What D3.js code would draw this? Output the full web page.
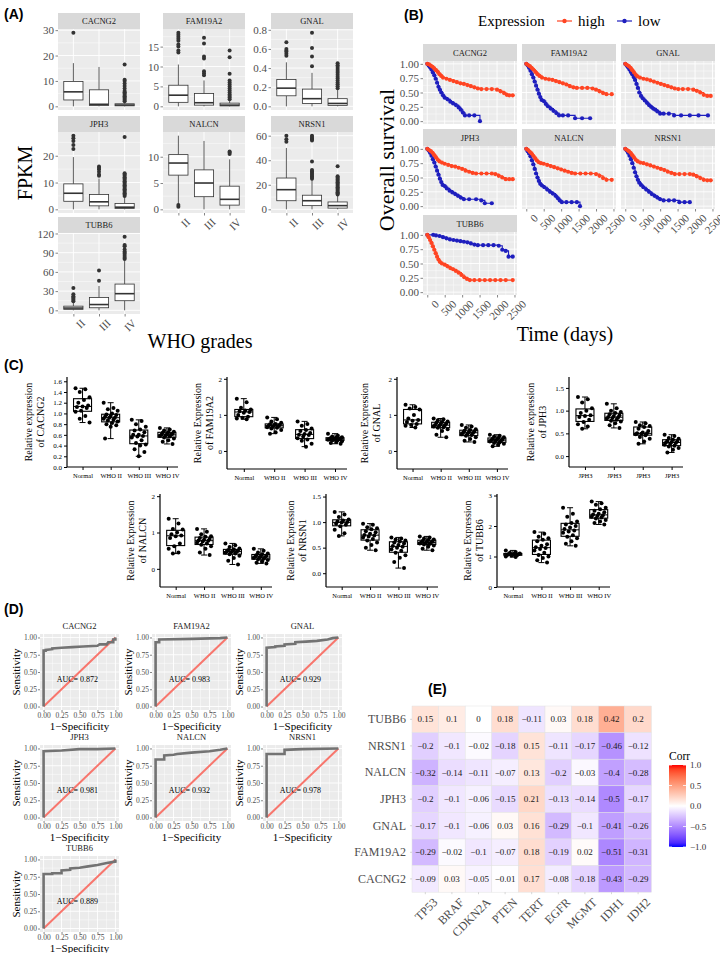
<!DOCTYPE html>
<html><head><meta charset="utf-8">
<script src="https://cdn.jsdelivr.net/npm/d3@7/dist/d3.min.js"></script>
<style>html,body{margin:0;padding:0;background:#fff;}svg{display:block;}</style>
</head><body>
<svg id="fig" width="720" height="953" xmlns="http://www.w3.org/2000/svg"></svg>
<script>
// ================= DATA =================
// ---- Panel A: FPKM by WHO grade; box = [lower whisker, Q1, median, Q3, upper whisker] for II, III, IV
const gradesA = ["II","III","IV"];
const genesA = ["CACNG2","FAM19A2","GNAL","JPH3","NALCN","NRSN1","TUBB6"];
const boxCACNG2 = [[0,2.5,5.7,9.8,17],[0,0.3,0.8,6.5,15.5],[0,0.2,0.5,1.0,1.8]];
const outCACNG2 = [[29],[],[2,2.5,3,3.5,4,4.5,5,5.5,6,7,8,9,10,10.5,16.5]];
const ticksCACNG2 = [0,10,20,30];
const boxFAM19A2 = [[0,1.0,2.8,5.3,10.5],[0,0.3,0.9,3.2,6.5],[0,0.1,0.3,0.8,1.5]];
const outFAM19A2 = [[13.5,14,15,15.5,16.5,17,17.5,18,18.5],[7.8,8.3,8.8,12,12.5,15.8,17.2],[1.8,2.2,2.6,3,3.5,4,4.5,5,5.5,6,6.5,8.2,12.3,14]];
const ticksFAM19A2 = [0,5,10,15];
const boxGNAL = [[0,0.11,0.19,0.28,0.46],[0,0.03,0.08,0.18,0.35],[0,0.01,0.03,0.08,0.17]];
const outGNAL = [[0.53,0.55,0.57,0.58,0.6,0.67],[0.42,0.52,0.61,0.77],[0.19,0.21,0.23,0.25,0.27,0.29,0.31,0.33,0.35,0.37,0.39,0.41,0.43,0.45]];
const ticksGNAL = [0,0.2,0.4,0.6,0.8];
const boxJPH3 = [[0,3,6,9.5,19.5],[0,1.3,2.8,5.5,11.5],[0,0.3,0.8,2.2,4.5]];
const outJPH3 = [[22.5,24,25.5,26.5,27.5],[12.5,13,14,15,15.5,16],[5,5.5,6,6.5,7,7.5,8,8.5,9,9.5,10,10.5,11,11.5,12,12.5,13,13.5,27]];
const ticksJPH3 = [0,10,20];
const boxNALCN = [[1,6.5,8.8,10.4,14],[0,2.4,5,7.5,13],[0,0.8,1.9,4.4,9.5]];
const outNALCN = [[0.5,0.8],[],[10.5,10.8,11]];
const ticksNALCN = [0,5,10];
const boxNRSN1 = [[0,7,16,25.5,50],[0,3,7,11.5,24],[0,1,3,6,11]];
const outNRSN1 = [[55,57,60],[25,26,27,28,29,30,31,32,39,56,57,58,59,60],[12,13,14,15,16,17,18,19,20,21,22,23,24,25,26,27,35]];
const ticksNRSN1 = [0,20,40,60];
const boxTUBB6 = [[0,1.5,3.5,6.5,13],[0,4,9,20,38],[0,15,26,41,78]];
const outTUBB6 = [[14,16,18,20,22,25,35],[46,62],[80,82,85,88,90,92,95,100,102,115]];
const ticksTUBB6 = [0,30,60,90,120];

// ---- Panel B: Kaplan-Meier [time (days), survival]
const kmTimeTicks = [0,500,1000,1500,2000,2500];
const kmSurvTicks = [0,0.25,0.5,0.75,1];
const kmHighCACNG2 = [[0,1],[50,0.99],[100,0.97],[150,0.95],[200,0.92],[250,0.89],[300,0.86],[350,0.82],[400,0.79],[450,0.76],[550,0.74],[650,0.72],[750,0.7],[850,0.68],[950,0.66],[1050,0.65],[1150,0.63],[1250,0.61],[1350,0.59],[1450,0.57],[1550,0.56],[1700,0.56],[1850,0.56],[2000,0.55],[2100,0.52],[2200,0.49],[2280,0.46],[2350,0.45],[2450,0.45]];
const kmLowCACNG2 = [[0,1],[40,0.97],[80,0.94],[120,0.9],[160,0.85],[200,0.8],[240,0.74],[280,0.67],[320,0.6],[360,0.55],[400,0.5],[450,0.45],[500,0.41],[580,0.38],[660,0.34],[740,0.31],[820,0.28],[900,0.24],[960,0.2],[1020,0.15],[1080,0.1],[1200,0.1],[1350,0.1],[1510,0]];
const kmHighFAM19A2 = [[0,1],[50,0.98],[100,0.96],[150,0.93],[200,0.9],[260,0.86],[320,0.82],[380,0.79],[450,0.76],[550,0.74],[650,0.73],[750,0.72],[850,0.7],[950,0.68],[1050,0.66],[1150,0.64],[1250,0.61],[1350,0.59],[1450,0.58],[1600,0.58],[1750,0.58],[1900,0.57],[2000,0.55],[2100,0.52],[2200,0.49],[2300,0.47],[2450,0.47]];
const kmLowFAM19A2 = [[0,1],[40,0.97],[80,0.93],[120,0.88],[160,0.82],[200,0.76],[240,0.69],[280,0.62],[320,0.55],[360,0.48],[400,0.42],[440,0.37],[500,0.35],[560,0.3],[620,0.26],[700,0.22],[780,0.18],[860,0.14],[940,0.1],[1050,0.1],[1200,0.1],[1400,0.05],[1600,0.05],[1830,0.05]];
const kmHighGNAL = [[0,1],[50,0.98],[100,0.96],[150,0.93],[200,0.89],[250,0.85],[300,0.81],[350,0.78],[420,0.76],[520,0.74],[620,0.73],[720,0.71],[820,0.69],[920,0.67],[1020,0.65],[1120,0.63],[1220,0.61],[1320,0.59],[1420,0.57],[1520,0.56],[1650,0.56],[1800,0.56],[1950,0.55],[2050,0.53],[2150,0.5],[2250,0.46],[2350,0.44],[2450,0.44]];
const kmLowGNAL = [[0,1],[40,0.97],[80,0.94],[120,0.9],[160,0.86],[200,0.82],[240,0.77],[280,0.72],[320,0.65],[360,0.58],[400,0.5],[450,0.44],[500,0.4],[560,0.36],[620,0.32],[680,0.28],[740,0.25],[800,0.22],[860,0.2],[920,0.17],[1000,0.13],[1100,0.13],[1250,0.13],[1400,0.1],[1600,0.1],[1850,0.1],[2100,0.1],[2370,0.1]];
const kmHighJPH3 = [[0,1],[50,0.98],[100,0.96],[150,0.93],[200,0.89],[250,0.85],[300,0.81],[350,0.78],[420,0.76],[500,0.74],[600,0.72],[700,0.7],[800,0.69],[900,0.67],[1000,0.65],[1100,0.62],[1200,0.6],[1300,0.58],[1400,0.57],[1550,0.57],[1700,0.57],[1850,0.57],[1950,0.56],[2050,0.53],[2150,0.5],[2250,0.47],[2350,0.47],[2450,0.47]];
const kmLowJPH3 = [[0,1],[40,0.97],[80,0.93],[120,0.88],[160,0.82],[200,0.76],[240,0.69],[280,0.62],[320,0.55],[360,0.48],[400,0.42],[440,0.37],[500,0.35],[560,0.31],[640,0.27],[720,0.24],[800,0.21],[880,0.18],[960,0.15],[1050,0.12],[1200,0.12],[1400,0.12],[1550,0.1],[1650,0.05],[1850,0.05]];
const kmHighNALCN = [[0,1],[50,0.98],[100,0.95],[150,0.92],[200,0.88],[250,0.84],[300,0.8],[350,0.77],[420,0.75],[500,0.74],[600,0.72],[700,0.7],[800,0.68],[900,0.66],[1000,0.64],[1100,0.62],[1200,0.6],[1300,0.58],[1400,0.57],[1550,0.57],[1700,0.57],[1850,0.57],[2000,0.56],[2100,0.53],[2200,0.49],[2300,0.46],[2450,0.46]];
const kmLowNALCN = [[0,1],[40,0.96],[80,0.92],[120,0.87],[160,0.8],[200,0.73],[240,0.65],[280,0.57],[320,0.5],[360,0.44],[400,0.39],[450,0.36],[520,0.33],[600,0.29],[680,0.25],[760,0.22],[840,0.18],[900,0.14],[960,0.1],[1020,0.07],[1150,0.07],[1300,0.07],[1450,0.07],[1540,0]];
const kmHighNRSN1 = [[0,1],[50,0.98],[100,0.96],[150,0.93],[200,0.89],[250,0.85],[300,0.81],[360,0.78],[430,0.76],[520,0.75],[620,0.73],[720,0.71],[820,0.69],[920,0.67],[1020,0.65],[1120,0.63],[1220,0.6],[1320,0.58],[1420,0.56],[1550,0.56],[1700,0.56],[1850,0.56],[1950,0.55],[2050,0.52],[2150,0.49],[2250,0.46],[2350,0.45],[2450,0.45]];
const kmLowNRSN1 = [[0,1],[40,0.97],[80,0.93],[120,0.88],[160,0.82],[200,0.75],[240,0.67],[280,0.59],[320,0.52],[360,0.46],[400,0.41],[450,0.37],[520,0.33],[600,0.29],[680,0.25],[760,0.21],[840,0.18],[920,0.15],[1000,0.12],[1100,0.1],[1250,0.1],[1400,0.1],[1550,0.07],[1700,0.07],[1850,0.07]];
const kmHighTUBB6 = [[0,1],[40,0.96],[80,0.91],[120,0.86],[160,0.8],[200,0.74],[240,0.68],[280,0.62],[320,0.57],[360,0.53],[420,0.5],[500,0.48],[580,0.45],[660,0.42],[740,0.4],[820,0.37],[900,0.34],[980,0.3],[1060,0.26],[1140,0.23],[1220,0.21],[1350,0.21],[1500,0.21],[1650,0.21],[1800,0.21],[1950,0.21],[2100,0.21],[2250,0.21],[2450,0.21]];
const kmLowTUBB6 = [[0,1],[170,1],[250,0.99],[350,0.98],[450,0.96],[550,0.94],[650,0.92],[750,0.91],[850,0.9],[950,0.89],[1050,0.88],[1150,0.87],[1250,0.85],[1350,0.83],[1450,0.82],[1600,0.82],[1750,0.82],[1900,0.82],[2050,0.81],[2150,0.74],[2250,0.72],[2330,0.62],[2450,0.62]];

// ---- Panel C: qPCR relative expression (individual samples)
const groupsC = ["Normal","WHO II","WHO III","WHO IV"];
const groupsCJPH3 = ["JPH3","JPH3","JPH3","JPH3"];
const qCACNG2 = [[1.47,1.45,1.4,1.3,1.25,1.2,1.15,1.13,1.12,1.1,1.05,1.03,0.95,0.9,0.83],[1.2,1.1,1.08,1.05,1.0,0.98,0.97,0.95,0.94,0.92,0.92,0.9,0.88,0.87,0.85,0.82,0.8,0.78,0.75,0.53],[0.88,0.86,0.8,0.75,0.7,0.68,0.65,0.6,0.6,0.58,0.57,0.55,0.5,0.45,0.42,0.4,0.33,0.28,0.2],[0.73,0.7,0.68,0.66,0.65,0.64,0.62,0.61,0.6,0.6,0.59,0.58,0.57,0.55,0.53,0.5,0.47,0.43]];
const qFAM19A2 = [[1.45,1.35,1.2,1.15,1.12,1.1,1.08,1.06,1.0,0.95,0.92,0.9,0.88],[0.93,0.88,0.82,0.78,0.75,0.74,0.72,0.71,0.7,0.69,0.68,0.66,0.64,0.62,0.58,0.52,0.48],[0.82,0.75,0.7,0.62,0.58,0.55,0.5,0.47,0.45,0.44,0.4,0.35,0.32,0.28,0.2,0.12],[0.48,0.43,0.4,0.38,0.37,0.36,0.35,0.34,0.33,0.33,0.32,0.31,0.3,0.29,0.27,0.25,0.22,0.2]];
const qGNAL = [[1.28,1.22,1.18,1.15,1.0,0.9,0.86,0.84,0.8,0.75,0.72,0.7,0.65],[0.9,0.88,0.85,0.82,0.8,0.78,0.76,0.74,0.72,0.71,0.7,0.68,0.66,0.64,0.6,0.55,0.45,0.38],[0.72,0.68,0.64,0.6,0.58,0.56,0.54,0.52,0.51,0.5,0.48,0.46,0.44,0.42,0.38,0.33,0.28,0.25],[0.45,0.42,0.4,0.38,0.36,0.34,0.32,0.31,0.3,0.29,0.28,0.26,0.24,0.22,0.2,0.17,0.13]];
const qJPH3 = [[1.3,1.25,1.18,1.05,1.0,0.95,0.9,0.88,0.86,0.8,0.75,0.7,0.65,0.6],[1.15,1.05,1.0,0.97,0.95,0.92,0.9,0.88,0.86,0.85,0.84,0.82,0.8,0.78,0.76,0.72,0.68,0.62],[0.75,0.72,0.68,0.66,0.64,0.6,0.55,0.52,0.5,0.5,0.49,0.48,0.46,0.42,0.38,0.32,0.27],[0.47,0.44,0.4,0.38,0.36,0.34,0.32,0.31,0.3,0.29,0.27,0.25,0.23,0.21,0.18,0.14,0.08]];
const qNALCN = [[1.38,1.25,1.1,1.08,1.0,0.95,0.92,0.9,0.85,0.7,0.62,0.55,0.45,0.42],[1.1,1.02,0.95,0.9,0.88,0.85,0.82,0.8,0.78,0.77,0.75,0.72,0.7,0.66,0.62,0.55,0.45,0.38],[0.7,0.65,0.6,0.56,0.54,0.52,0.5,0.49,0.48,0.47,0.46,0.44,0.42,0.4,0.36,0.3,0.22,0.12],[0.55,0.5,0.45,0.42,0.4,0.38,0.36,0.34,0.33,0.32,0.31,0.3,0.28,0.26,0.24,0.2,0.17,0.15]];
const qNRSN1 = [[1.2,1.15,1.1,1.05,1.03,1.01,1.0,0.99,0.97,0.95,0.92,0.85,0.78,0.73],[0.97,0.95,0.9,0.88,0.86,0.82,0.8,0.77,0.75,0.74,0.72,0.7,0.67,0.64,0.6,0.55,0.5,0.45],[0.7,0.68,0.66,0.64,0.62,0.6,0.58,0.55,0.53,0.52,0.5,0.47,0.44,0.4,0.35,0.3,0.22,0.1],[0.72,0.7,0.68,0.66,0.65,0.63,0.62,0.61,0.6,0.6,0.59,0.58,0.57,0.56,0.54,0.52,0.48,0.45]];
const qTUBB6 = [[1.2,1.15,1.12,1.1,1.09,1.08,1.07,1.06,1.05,1.04,1.03,1.0,0.98],[1.8,1.75,1.65,1.6,1.55,1.5,1.4,1.35,1.3,1.28,1.25,1.2,1.12,1.05,1.0,0.95,0.88,0.8],[2.6,2.4,2.3,2.15,2.1,2.05,2.0,1.95,1.9,1.85,1.82,1.78,1.7,1.65,1.6,1.5,1.42,1.35],[2.8,2.75,2.7,2.6,2.55,2.5,2.45,2.4,2.38,2.35,2.33,2.3,2.28,2.25,2.2,2.15,2.1,2.05]];

// ---- Panel D: ROC curves [1-specificity, sensitivity]
const rocCACNG2 = [[0,0],[0,0.81],[0.03,0.81],[0.03,0.82],[0.12,0.83],[0.12,0.84],[0.25,0.85],[0.4,0.86],[0.55,0.87],[0.75,0.88],[0.78,0.9],[0.88,0.9],[0.9,0.93],[0.97,0.93],[0.97,0.97],[1,0.97],[1,1]];
const rocFAM19A2 = [[0,0],[0,0.93],[0.05,0.93],[0.05,0.97],[0.5,0.98],[0.9,0.99],[1,1]];
const rocGNAL = [[0,0],[0,0.85],[0.12,0.86],[0.12,0.87],[0.25,0.88],[0.25,0.9],[0.4,0.91],[0.4,0.93],[0.55,0.94],[0.7,0.95],[0.85,0.97],[0.92,0.99],[1,1]];
const rocJPH3 = [[0,0],[0,0.96],[0.25,0.97],[0.5,0.99],[0.75,0.99],[1,1]];
const rocNALCN = [[0,0],[0,0.84],[0.12,0.84],[0.12,0.9],[0.25,0.91],[0.3,0.92],[0.5,0.94],[0.75,0.96],[0.9,0.98],[1,1]];
const rocNRSN1 = [[0,0],[0,0.92],[0.25,0.92],[0.25,0.98],[0.5,0.99],[1,1]];
const rocTUBB6 = [[0,0],[0,0.79],[0.12,0.79],[0.12,0.8],[0.25,0.8],[0.25,0.84],[0.37,0.85],[0.37,0.87],[0.5,0.88],[0.62,0.9],[0.75,0.92],[0.88,0.95],[1,0.97],[1,1]];
const aucValues = [0.872,0.983,0.929,0.981,0.932,0.978,0.889];
const rocAxisTicks = [0,0.25,0.5,0.75,1];

// ---- Panel E: correlation heatmap
const heatRows = ["TUBB6","NRSN1","NALCN","JPH3","GNAL","FAM19A2","CACNG2"];
const heatCols = ["TP53","BRAF","CDKN2A","PTEN","TERT","EGFR","MGMT","IDH1","IDH2"];
const corrTUBB6 = [0.15,0.1,0,0.18,-0.11,0.03,0.18,0.42,0.2];
const corrNRSN1 = [-0.2,-0.1,-0.02,-0.18,0.15,-0.11,-0.17,-0.46,-0.12];
const corrNALCN = [-0.32,-0.14,-0.11,-0.07,0.13,-0.2,-0.03,-0.4,-0.28];
const corrJPH3 = [-0.2,-0.1,-0.06,-0.15,0.21,-0.13,-0.14,-0.5,-0.17];
const corrGNAL = [-0.17,-0.1,-0.06,0.03,0.16,-0.29,-0.1,-0.41,-0.26];
const corrFAM19A2 = [-0.29,-0.02,-0.1,-0.07,0.18,-0.19,0.02,-0.51,-0.31];
const corrCACNG2 = [-0.09,0.03,-0.05,-0.01,0.17,-0.08,-0.18,-0.43,-0.29];
const corrLegendTicks = [-1,-0.5,0,0.5,1];

// ================= DRAWING =================
const SERIF = "'Liberation Serif','Times New Roman',serif";
const SANS = "'Liberation Sans',Arial,sans-serif";
const svg = d3.select("#fig");
const minus = s => String(s).replace(/-/g, "\u2212");

function txt(g, x, y, t, size, opts = {}) {
  const e = g.append("text").attr("x", x).attr("y", y).attr("font-family", opts.family || SERIF)
    .attr("font-size", size).style("fill", opts.fill || "#000").attr("text-anchor", opts.anchor || "start").text(t);
  if (opts.weight) e.attr("font-weight", opts.weight);
  if (opts.rotate !== undefined) e.attr("transform", `rotate(${opts.rotate},${x},${y})`);
  if (opts.baseline) e.attr("dominant-baseline", opts.baseline);
  return e;
}
function styleAxis(sel, size, color) {
  sel.select(".domain").remove();
  sel.attr("fill", null);
  sel.selectAll(".tick line").attr("stroke", "#333").attr("stroke-width", 0.6);
  sel.selectAll(".tick text").attr("font-family", SERIF).attr("font-size", size).style("fill", color);
}
// panel labels
txt(svg, 4, 19, "(A)", 14, {family: SANS, weight: "bold"});
txt(svg, 404, 20, "(B)", 14, {family: SANS, weight: "bold"});
txt(svg, 4, 370, "(C)", 14, {family: SANS, weight: "bold"});
txt(svg, 4, 614, "(D)", 14, {family: SANS, weight: "bold"});
txt(svg, 428, 694, "(E)", 14, {family: SANS, weight: "bold"});

function ggGrid(g, xs, ys, px, py, pw, ph, xMinor, yMinor) {
  yMinor.forEach(v => g.append("line").attr("x1", px).attr("x2", px + pw).attr("y1", v).attr("y2", v).attr("stroke", "#fff").attr("stroke-width", 0.45));
  xMinor.forEach(v => g.append("line").attr("y1", py).attr("y2", py + ph).attr("x1", v).attr("x2", v).attr("stroke", "#fff").attr("stroke-width", 0.45));
  ys.forEach(v => g.append("line").attr("x1", px).attr("x2", px + pw).attr("y1", v).attr("y2", v).attr("stroke", "#fff").attr("stroke-width", 0.9));
  xs.forEach(v => g.append("line").attr("y1", py).attr("y2", py + ph).attr("x1", v).attr("x2", v).attr("stroke", "#fff").attr("stroke-width", 0.9));
}
function midpoints(ticks, lo, hi) {
  const st = ticks[1] - ticks[0], out = [];
  for (let i = -1; i < ticks.length; i++) { const v = ticks[0] + st * (i + 0.5); if (v > lo && v < hi) out.push(v); }
  return out;
}

// ---------- Panel A ----------
const boxesA = [boxCACNG2, boxFAM19A2, boxGNAL, boxJPH3, boxNALCN, boxNRSN1, boxTUBB6];
const outsA = [outCACNG2, outFAM19A2, outGNAL, outJPH3, outNALCN, outNRSN1, outTUBB6];
const ticksA = [ticksCACNG2, ticksFAM19A2, ticksGNAL, ticksJPH3, ticksNALCN, ticksNRSN1, ticksTUBB6];
const colXA = [58, 163, 271], rowYA = [29, 132, 233], pwA = 82, phA = 81;
genesA.forEach((gene, k) => {
  const col = k % 3, row = Math.floor(k / 3);
  const px = colXA[col], py = rowYA[row];
  const g = svg.append("g");
  g.append("rect").attr("x", px).attr("y", py - 16).attr("width", pwA).attr("height", 16).attr("fill", "#d9d9d9");
  txt(g, px + pwA / 2, py - 5, gene, 8.5, {anchor: "middle", fill: "#1a1a1a"});
  g.append("rect").attr("x", px).attr("y", py).attr("width", pwA).attr("height", phA).attr("fill", "#ebebeb");
  const all = boxesA[k].flat().concat(outsA[k].flat());
  const mn = d3.min(all), mx = d3.max(all), r = mx - mn;
  const y = d3.scaleLinear().domain([mn - 0.05 * r, mx + 0.05 * r]).range([py + phA, py]);
  const x = d3.scalePoint().domain(gradesA).range([px + pwA * 0.6 / 3.2, px + pwA * 2.6 / 3.2]);
  ggGrid(g, gradesA.map(x), ticksA[k].map(y), px, py, pwA, phA, [], midpoints(ticksA[k], y.domain()[0], y.domain()[1]).map(y));
  const bw = (pwA / 3.2) * 0.75;
  gradesA.forEach((gr, i) => {
    const [lo, q1, md, q3, hi] = boxesA[k][i], cx = x(gr);
    g.append("line").attr("x1", cx).attr("x2", cx).attr("y1", y(lo)).attr("y2", y(q1)).attr("stroke", "#333").attr("stroke-width", 0.8);
    g.append("line").attr("x1", cx).attr("x2", cx).attr("y1", y(q3)).attr("y2", y(hi)).attr("stroke", "#333").attr("stroke-width", 0.8);
    g.append("rect").attr("x", cx - bw / 2).attr("y", y(q3)).attr("width", bw).attr("height", Math.max(0.5, y(q1) - y(q3))).attr("fill", "#fff").attr("stroke", "#333").attr("stroke-width", 0.8);
    g.append("line").attr("x1", cx - bw / 2).attr("x2", cx + bw / 2).attr("y1", y(md)).attr("y2", y(md)).attr("stroke", "#333").attr("stroke-width", 1.6);
    outsA[k][i].forEach(v => g.append("circle").attr("cx", cx).attr("cy", y(v)).attr("r", 2).attr("fill", "#333"));
  });
  const ax = g.append("g").attr("transform", `translate(${px},0)`).call(d3.axisLeft(y).tickValues(ticksA[k]).tickSize(2.5).tickPadding(1.5));
  styleAxis(ax, 11, "#4d4d4d");
  const showX = (row === 2) || (row === 1 && col > 0);
  if (showX) {
    const bx = g.append("g").attr("transform", `translate(0,${py + phA})`).call(d3.axisBottom(x).tickSize(2.5).tickPadding(2));
    styleAxis(bx, 11, "#4d4d4d");
    bx.selectAll(".tick text").attr("text-anchor", "end").attr("dy", "0.6em").attr("transform", "translate(4,2) rotate(-45)");
  }
});
txt(svg, 25, 173, "FPKM", 20, {anchor: "middle", rotate: -90, baseline: "central"});
txt(svg, 200, 348, "WHO grades", 20, {anchor: "middle"});

// ---------- Panel B ----------
const HIGH = "#FF4422", LOW = "#1E1EBE";
const kmHigh = [kmHighCACNG2, kmHighFAM19A2, kmHighGNAL, kmHighJPH3, kmHighNALCN, kmHighNRSN1, kmHighTUBB6];
const kmLow = [kmLowCACNG2, kmLowFAM19A2, kmLowGNAL, kmLowJPH3, kmLowNALCN, kmLowNRSN1, kmLowTUBB6];
const colXB = [423, 522, 621], rowYB = [61, 146, 232], pwB = 94, phB = 63;
const tMax = d3.max(kmHigh.concat(kmLow).flat(), d => d[0]);
genesA.forEach((gene, k) => {
  const col = k % 3, row = Math.floor(k / 3);
  const px = colXB[col], py = rowYB[row];
  const g = svg.append("g");
  g.append("rect").attr("x", px).attr("y", py - 17).attr("width", pwB).attr("height", 17).attr("fill", "#d9d9d9");
  txt(g, px + pwB / 2, py - 5, gene, 8.5, {anchor: "middle", fill: "#1a1a1a"});
  g.append("rect").attr("x", px).attr("y", py).attr("width", pwB).attr("height", phB).attr("fill", "#ebebeb");
  const x = d3.scaleLinear().domain([-0.05 * tMax, tMax * 1.05]).range([px, px + pwB]);
  const y = d3.scaleLinear().domain([-0.05, 1.05]).range([py + phB, py]);
  ggGrid(g, kmTimeTicks.map(x).filter(v => v <= px + pwB), kmSurvTicks.map(y), px, py, pwB, phB,
    midpoints(kmTimeTicks, x.domain()[0], x.domain()[1]).map(x), midpoints(kmSurvTicks, -0.05, 1.05).map(y));
  const line = d3.line().x(d => x(d[0])).y(d => y(d[1])).curve(d3.curveStepAfter);
  [[kmLow[k], LOW], [kmHigh[k], HIGH]].forEach(([data, c]) => {
    g.append("path").attr("d", line(data)).attr("fill", "none").attr("stroke", c).attr("stroke-width", 1.1);
    data.forEach(d => g.append("circle").attr("cx", x(d[0])).attr("cy", y(d[1])).attr("r", 2.1).attr("fill", c));
  });
  if (col === 0) {
    const ax = g.append("g").attr("transform", `translate(${px},0)`).call(d3.axisLeft(y).tickValues(kmSurvTicks).tickFormat(d3.format(".2f")).tickSize(2.5).tickPadding(1.5));
    styleAxis(ax, 11, "#4d4d4d");
  }
  const showX = (row === 2) || (row === 1 && col > 0);
  if (showX) {
    const bx = g.append("g").attr("transform", `translate(0,${py + phB})`).call(d3.axisBottom(x).tickValues(kmTimeTicks).tickFormat(d3.format("d")).tickSize(2.5).tickPadding(2));
    styleAxis(bx, 11, "#4d4d4d");
    bx.selectAll(".tick text").attr("text-anchor", "end").attr("dy", "0.6em").attr("transform", "translate(4,2) rotate(-45)");
  }
});
txt(svg, 386, 160, "Overall survival", 22, {anchor: "middle", rotate: -90, baseline: "central"});
txt(svg, 565, 341, "Time (days)", 20, {anchor: "middle"});
// legend
txt(svg, 478, 26, "Expression", 15);
[[HIGH, "high", 557], [LOW, "low", 617]].forEach(([c, t, lx]) => {
  svg.append("line").attr("x1", lx).attr("x2", lx + 15).attr("y1", 21).attr("y2", 21).attr("stroke", c).attr("stroke-width", 1.2);
  svg.append("circle").attr("cx", lx + 7.5).attr("cy", 21).attr("r", 2.2).attr("fill", c);
  txt(svg, lx + 21, 26, t, 15);
});

// ---------- Panel C ----------
const cSpecs = [
  {d: qCACNG2, labels: groupsC, x0: 67, x1: 178, yT: 377, yB: 467, dom: [0, 1.68], ticks: [0, 0.2, 0.4, 0.6, 0.8, 1.0, 1.2, 1.4, 1.6], fmt: ".1f", t1: "Relative expression", t2: "of CACNG2", off: 39},
  {d: qFAM19A2, labels: groupsC, x0: 227, x1: 347, yT: 377, yB: 469, dom: [-0.5, 2.05], ticks: [0, 1, 2], fmt: "d", t1: "Relative Expression", t2: "of FAM19A2", off: 30},
  {d: qGNAL, labels: groupsC, x0: 397, x1: 508, yT: 377, yB: 469, dom: [-0.5, 2.05], ticks: [0, 1, 2], fmt: "d", t1: "Relative Expression", t2: "of GNAL", off: 33},
  {d: qJPH3, labels: groupsCJPH3, x0: 569, x1: 683, yT: 377, yB: 467, dom: [-0.24, 1.74], ticks: [0, 0.5, 1, 1.5], fmt: ".1f", t1: "Relative expression", t2: "of JPH3", off: 39},
  {d: qNALCN, labels: groupsC, x0: 160, x1: 272, yT: 494, yB: 587, dom: [-0.5, 2.06], ticks: [0, 1, 2], fmt: "d", t1: "Relative Expression", t2: "of NALCN", off: 30},
  {d: qNRSN1, labels: groupsC, x0: 326, x1: 438, yT: 494, yB: 587, dom: [-0.27, 1.55], ticks: [0, 0.5, 1, 1.5], fmt: ".1f", t1: "Relative Expression", t2: "of NRSN1", off: 36},
  {d: qTUBB6, labels: groupsC, x0: 497, x1: 610, yT: 494, yB: 587, dom: [0, 3.05], ticks: [0, 1, 2, 3], fmt: "d", t1: "Relative Expression", t2: "of TUBB6", off: 30}
];
cSpecs.forEach(s => {
  const g = svg.append("g");
  const y = d3.scaleLinear().domain(s.dom).range([s.yB, s.yT]);
  const x = d3.scalePoint().domain(d3.range(4)).range([s.x0 + 0.14 * (s.x1 - s.x0), s.x0 + 0.9 * (s.x1 - s.x0)]);
  s.d.forEach((vals, i) => {
    const sorted = vals.slice().sort(d3.ascending);
    const q1 = d3.quantile(sorted, 0.25), md = d3.quantile(sorted, 0.5), q3 = d3.quantile(sorted, 0.75);
    const lo = sorted[0], hi = sorted[sorted.length - 1], cx = x(i), bw = 18;
    g.append("line").attr("x1", cx).attr("x2", cx).attr("y1", y(lo)).attr("y2", y(hi)).attr("stroke", "#000").attr("stroke-width", 1);
    [lo, hi].forEach(v => g.append("line").attr("x1", cx - 3).attr("x2", cx + 3).attr("y1", y(v)).attr("y2", y(v)).attr("stroke", "#000").attr("stroke-width", 1));
    g.append("rect").attr("x", cx - bw / 2).attr("y", y(q3)).attr("width", bw).attr("height", y(q1) - y(q3)).attr("fill", "#fff").attr("stroke", "#000").attr("stroke-width", 1.1);
    g.append("line").attr("x1", cx - bw / 2).attr("x2", cx + bw / 2).attr("y1", y(md)).attr("y2", y(md)).attr("stroke", "#000").attr("stroke-width", 1);
    // points (deterministic spread)
    vals.forEach((v, j) => {
      const dx = (((j * 7) % 11) / 10 - 0.5) * 14;
      g.append("circle").attr("cx", cx + dx).attr("cy", y(v)).attr("r", 2).attr("fill", "#000");
    });
  });
  const ax = g.append("g").attr("transform", `translate(${s.x0},0)`).call(d3.axisLeft(y).tickValues(s.ticks).tickFormat(d3.format(s.fmt)).tickSize(3).tickPadding(2));
  ax.select(".domain").remove();
  ax.selectAll(".tick line").attr("stroke", "#000").attr("stroke-width", 1);
  ax.selectAll(".tick text").attr("font-family", SERIF).attr("font-size", 7).style("fill", "#000");
  g.append("line").attr("x1", s.x0).attr("x2", s.x0).attr("y1", s.yT).attr("y2", s.yB).attr("stroke", "#000").attr("stroke-width", 1.2);
  g.append("line").attr("x1", s.x0).attr("x2", s.x1).attr("y1", s.yB).attr("y2", s.yB).attr("stroke", "#000").attr("stroke-width", 1.2);
  const bx = g.append("g").attr("transform", `translate(0,${s.yB})`).call(d3.axisBottom(x).tickFormat(i => s.labels[i]).tickSize(3).tickPadding(3));
  bx.select(".domain").remove();
  bx.selectAll(".tick line").attr("stroke", "#000").attr("stroke-width", 1);
  bx.selectAll(".tick text").attr("font-family", SERIF).attr("font-size", 6.5).style("fill", "#000");
  const cy = (s.yT + s.yB) / 2;
  txt(g, s.x0 - s.off, cy, s.t1, 10, {anchor: "middle", rotate: -90, baseline: "central"});
  txt(g, s.x0 - s.off + 12, cy, s.t2, 10, {anchor: "middle", rotate: -90, baseline: "central"});
});

// ---------- Panel D ----------
const rocs = [rocCACNG2, rocFAM19A2, rocGNAL, rocJPH3, rocNALCN, rocNRSN1, rocTUBB6];
const colXD = [40, 152, 263], rowYD = [634, 745, 856], pwD = 79, phD = 76;
genesA.forEach((gene, k) => {
  const col = k % 3, row = Math.floor(k / 3);
  const px = colXD[col], py = rowYD[row];
  const g = svg.append("g");
  g.append("rect").attr("x", px).attr("y", py).attr("width", pwD).attr("height", phD).attr("fill", "#ebebeb");
  const x = d3.scaleLinear().domain([-0.05, 1.05]).range([px, px + pwD]);
  const y = d3.scaleLinear().domain([-0.05, 1.05]).range([py + phD, py]);
  ggGrid(g, rocAxisTicks.map(x), rocAxisTicks.map(y), px, py, pwD, phD,
    midpoints(rocAxisTicks, -0.05, 1.05).map(x), midpoints(rocAxisTicks, -0.05, 1.05).map(y));
  const line = d3.line().x(d => x(d[0])).y(d => y(d[1]));
  g.append("path").attr("d", line([[0, 0], [1, 1]])).attr("stroke", "#F8766D").attr("stroke-width", 2).attr("fill", "none");
  g.append("path").attr("d", line(rocs[k])).attr("stroke", "#737373").attr("stroke-width", 2.6).attr("fill", "none");
  txt(g, x(0.47), y(0.4) + 3, "AUC= " + aucValues[k].toFixed(3), 8, {anchor: "middle"});
  txt(g, px + pwD / 2, py - 5, gene, 8.5, {anchor: "middle", fill: "#1a1a1a"});
  const ax = g.append("g").attr("transform", `translate(${px},0)`).call(d3.axisLeft(y).tickValues(rocAxisTicks).tickFormat(d3.format(".2f")).tickSize(2).tickPadding(1));
  styleAxis(ax, 7.5, "#4d4d4d");
  const bx = g.append("g").attr("transform", `translate(0,${py + phD})`).call(d3.axisBottom(x).tickValues(rocAxisTicks).tickFormat(d3.format(".2f")).tickSize(2).tickPadding(1));
  styleAxis(bx, 7.5, "#4d4d4d");
  txt(g, px - 24, py + phD / 2, "Sensitivity", 11, {anchor: "middle", rotate: -90, baseline: "central"});
  txt(g, px + pwD / 2, py + phD + 20, "1\u2212Specificity", 11, {anchor: "middle"});
});

// ---------- Panel E ----------
const corrRows = [corrTUBB6, corrNRSN1, corrNALCN, corrJPH3, corrGNAL, corrFAM19A2, corrCACNG2];
const hx0 = 412, hy0 = 706, cs = 26.6;
const xE = d3.scaleBand().domain(heatCols).range([hx0, hx0 + cs * heatCols.length]);
const yE = d3.scaleBand().domain(heatRows).range([hy0, hy0 + cs * heatRows.length]);
const colorE = d3.scaleLinear().domain([-1, 0, 1]).range(["#0000FF", "#FFFFFF", "#FF0000"]).interpolate(d3.interpolateLab);
const gE = svg.append("g");
heatRows.forEach((rname, i) => {
  heatCols.forEach((cname, j) => {
    const v = corrRows[i][j];
    gE.append("rect").attr("x", xE(cname)).attr("y", yE(rname)).attr("width", xE.bandwidth()).attr("height", yE.bandwidth())
      .attr("fill", colorE(v)).attr("stroke", "#e2e2e2").attr("stroke-width", 0.5);
    txt(gE, xE(cname) + xE.bandwidth() / 2, yE(rname) + yE.bandwidth() / 2 + 3, minus(v), 9, {anchor: "middle", fill: "#1a1a1a"});
  });
});
const ayE = gE.append("g").attr("transform", `translate(${hx0},0)`).call(d3.axisLeft(yE).tickSize(2).tickPadding(4));
styleAxis(ayE, 12, "#4d4d4d");
ayE.selectAll(".tick line").attr("stroke", "#bbb");
const axE = gE.append("g").attr("transform", `translate(0,${hy0 + cs * heatRows.length})`).call(d3.axisBottom(xE).tickSize(2).tickPadding(2));
styleAxis(axE, 12, "#4d4d4d");
axE.selectAll(".tick line").attr("stroke", "#bbb");
axE.selectAll(".tick text").attr("text-anchor", "end").attr("dy", "0.6em").attr("transform", "translate(5,3) rotate(-45)");
// legend
const legTop = hy0 + 59, legH = 82;
txt(svg, 669, legTop - 5, "Corr", 11.5);
const legY = d3.scaleLinear().domain([-1, 1]).range([legTop + legH, legTop]);
const grad = svg.append("defs").append("linearGradient").attr("id", "corrGrad").attr("x1", 0).attr("x2", 0).attr("y1", 1).attr("y2", 0);
d3.range(0, 1.0001, 0.05).forEach(t => grad.append("stop").attr("offset", t).attr("stop-color", colorE(-1 + 2 * t)));
svg.append("rect").attr("x", 669).attr("y", legTop).attr("width", 17).attr("height", legH).attr("fill", "url(#corrGrad)");
corrLegendTicks.forEach(v => {
  svg.append("line").attr("x1", 669).attr("x2", 672).attr("y1", legY(v)).attr("y2", legY(v)).attr("stroke", "#fff").attr("stroke-width", 0.8);
  svg.append("line").attr("x1", 683).attr("x2", 686).attr("y1", legY(v)).attr("y2", legY(v)).attr("stroke", "#fff").attr("stroke-width", 0.8);
  txt(svg, 690, legY(v) + 3, minus(d3.format(".1f")(v)), 9, {fill: "#333"});
});
</script>
</body></html>
